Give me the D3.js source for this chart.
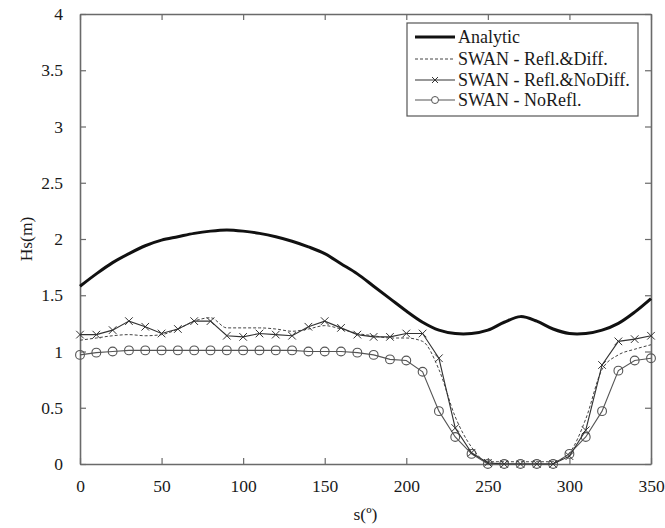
<!DOCTYPE html>
<html>
<head>
<meta charset="utf-8">
<script src="https://cdn.jsdelivr.net/npm/d3@7"></script>
<style>
  body { margin: 0; background: #fff; }
  svg text { font-family: "Liberation Serif", "Times New Roman", Times, serif; fill: #1a1a1a; }
</style>
</head>
<body>
<div id="chart"></div>
<script>
// direction s (degrees), every 10 deg
var angles = d3.range(0, 360, 10);

var analytic = [1.58, 1.69, 1.79, 1.87, 1.94, 1.99, 2.02, 2.05, 2.07, 2.08,
                2.07, 2.05, 2.02, 1.98, 1.93, 1.87, 1.78, 1.69, 1.58, 1.47,
                1.36, 1.26, 1.19, 1.16, 1.16, 1.19, 1.26, 1.31, 1.27, 1.20,
                1.16, 1.16, 1.19, 1.25, 1.35, 1.47];

var reflDiff = [1.10, 1.12, 1.14, 1.15, 1.14, 1.15, 1.20, 1.27, 1.30, 1.21,
                1.21, 1.21, 1.20, 1.18, 1.20, 1.23, 1.20, 1.16, 1.14, 1.12,
                1.12, 1.09, 0.84, 0.42, 0.15, 0.02, 0.02, 0.02, 0.02, 0.02,
                0.10, 0.40, 0.84, 0.97, 1.02, 1.06];

var reflNoDiff = [1.15, 1.15, 1.19, 1.27, 1.22, 1.16, 1.20, 1.27, 1.27, 1.14,
                  1.13, 1.16, 1.15, 1.14, 1.22, 1.27, 1.21, 1.15, 1.13, 1.13,
                  1.16, 1.16, 0.94, 0.32, 0.10, 0.01, 0.0, 0.0, 0.0, 0.0,
                  0.07, 0.30, 0.88, 1.09, 1.11, 1.14];

var noRefl = [0.97, 0.99, 1.00, 1.01, 1.01, 1.01, 1.01, 1.01, 1.01, 1.01,
              1.01, 1.01, 1.01, 1.01, 1.00, 1.00, 1.00, 0.99, 0.97, 0.93,
              0.92, 0.82, 0.47, 0.24, 0.09, 0.0, 0.0, 0.0, 0.0, 0.0,
              0.09, 0.24, 0.47, 0.83, 0.92, 0.94];

var legendLabels = ["Analytic", "SWAN - Refl.&Diff.", "SWAN - Refl.&NoDiff.", "SWAN - NoRefl."];
var xTicks = [0, 50, 100, 150, 200, 250, 300, 350];
var yTicks = [0, 0.5, 1, 1.5, 2, 2.5, 3, 3.5, 4];

var w = 665, h = 528;
var mLeft = 80, mRight = 651, mTop = 14, mBottom = 464;
var serif = "'Liberation Serif', 'Times New Roman', Times, serif";

var svg = d3.select("#chart").append("svg")
    .attr("width", w)
    .attr("height", h)
    .attr("font-family", serif);

var x = d3.scaleLinear().domain([0, 350]).range([mLeft, mRight]);
var y = d3.scaleLinear().domain([0, 4]).range([mBottom, mTop]);

var frameColor = "#6a6a6a";

function styleAxis(g) {
    g.attr("font-family", serif);
    g.select(".domain").attr("stroke", frameColor).attr("stroke-width", 1.6);
    g.selectAll(".tick line").attr("stroke", frameColor).attr("stroke-width", 1.2);
    g.selectAll(".tick text").attr("font-size", 17.5).attr("fill", "#1a1a1a");
}

// axes (ticks inside, on all four sides)
svg.append("g").attr("transform", "translate(0," + mBottom + ")")
    .call(d3.axisBottom(x).tickValues(xTicks).tickSizeInner(-6).tickSizeOuter(0).tickPadding(16).tickFormat(d3.format("d")))
    .call(styleAxis);
svg.append("g").attr("transform", "translate(0," + mTop + ")")
    .call(d3.axisTop(x).tickValues(xTicks).tickSizeInner(-6).tickSizeOuter(0).tickFormat(""))
    .call(styleAxis);
svg.append("g").attr("transform", "translate(" + mLeft + ",0)")
    .call(d3.axisLeft(y).tickValues(yTicks).tickSizeInner(-6).tickSizeOuter(0).tickPadding(17).tickFormat(d3.format("")))
    .call(styleAxis);
svg.append("g").attr("transform", "translate(" + mRight + ",0)")
    .call(d3.axisRight(y).tickValues(yTicks).tickSizeInner(-6).tickSizeOuter(0).tickFormat(""))
    .call(styleAxis);

// axis titles
svg.append("text")
    .attr("transform", "translate(32," + ((mTop + mBottom) / 2) + ") rotate(-90)")
    .attr("text-anchor", "middle")
    .attr("font-size", 17.5)
    .text("Hs(m)");
svg.append("text")
    .attr("x", (mLeft + mRight) / 2)
    .attr("y", 520)
    .attr("text-anchor", "middle")
    .attr("font-size", 17.5)
    .text("s(º)");

var line = d3.line()
    .x(function (d, i) { return x(angles[i]); })
    .y(function (d) { return y(d); });
var smooth = d3.line()
    .curve(d3.curveMonotoneX)
    .x(function (d, i) { return x(angles[i]); })
    .y(function (d) { return y(d); });
var rounded = d3.line()
    .curve(d3.curveCatmullRom.alpha(0.5))
    .x(function (d, i) { return x(angles[i]); })
    .y(function (d) { return y(d); });

// NoRefl (circles)
svg.append("path").datum(noRefl)
    .attr("d", line).attr("fill", "none")
    .attr("stroke", "#555").attr("stroke-width", 1.1);
svg.selectAll(".circ").data(noRefl).enter().append("circle")
    .attr("cx", function (d, i) { return x(angles[i]); })
    .attr("cy", function (d) { return y(d); })
    .attr("r", 4.4)
    .attr("fill", "none")
    .attr("stroke", "#555").attr("stroke-width", 1.1);

// Refl & Diff (dashed)
svg.append("path").datum(reflDiff)
    .attr("d", smooth).attr("fill", "none")
    .attr("stroke", "#444").attr("stroke-width", 1)
    .attr("stroke-dasharray", "3,2");

// Refl & NoDiff (crosses)
svg.append("path").datum(reflNoDiff)
    .attr("d", line).attr("fill", "none")
    .attr("stroke", "#333").attr("stroke-width", 1.1);
svg.selectAll(".cross").data(reflNoDiff).enter().append("path")
    .attr("transform", function (d, i) { return "translate(" + x(angles[i]) + "," + y(d) + ")"; })
    .attr("d", "M-3.8,-3.8L3.8,3.8M-3.8,3.8L3.8,-3.8")
    .attr("stroke", "#333").attr("stroke-width", 1);

// Analytic
svg.append("path").datum(analytic)
    .attr("d", rounded).attr("fill", "none")
    .attr("stroke", "#111").attr("stroke-width", 3);

// legend
var lg = svg.append("g");
lg.append("rect")
    .attr("x", 407).attr("y", 23)
    .attr("width", 231).attr("height", 93)
    .attr("fill", "#fff")
    .attr("stroke", "#555").attr("stroke-width", 1.2);

var ly = [37, 59, 80, 100];
legendLabels.forEach(function (label, i) {
    var g = lg.append("g").attr("transform", "translate(0," + ly[i] + ")");
    var ln = g.append("line").attr("x1", 415).attr("x2", 455).attr("y1", 0).attr("y2", 0);
    if (i === 0) ln.attr("stroke", "#111").attr("stroke-width", 3);
    if (i === 1) ln.attr("stroke", "#444").attr("stroke-width", 1).attr("stroke-dasharray", "3,2");
    if (i === 2) {
        ln.attr("stroke", "#333").attr("stroke-width", 1.1);
        g.append("path").attr("d", "M432,-3L438,3M432,3L438,-3").attr("stroke", "#333");
    }
    if (i === 3) {
        ln.attr("stroke", "#555").attr("stroke-width", 1.1);
        g.append("circle").attr("cx", 435).attr("cy", 0).attr("r", 3.5)
            .attr("fill", "#fff").attr("stroke", "#555");
    }
    g.append("text").attr("x", 458).attr("y", 6)
        .attr("font-size", 18)
        .text(label);
});
</script>
</body>
</html>
